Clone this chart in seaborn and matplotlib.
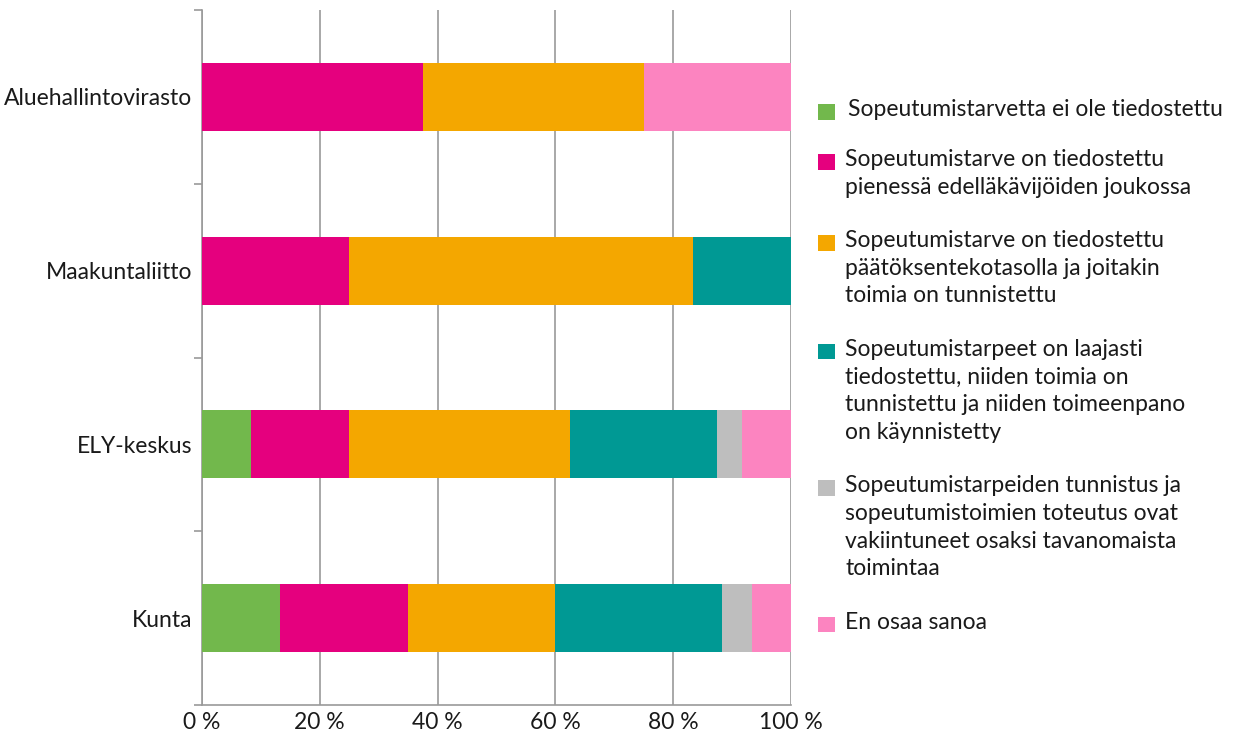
import matplotlib
matplotlib.use("Agg")
import matplotlib.pyplot as plt
import matplotlib.patches as mpatches
from matplotlib.legend_handler import HandlerPatch
from matplotlib.ticker import FixedLocator
import numpy as np
import pandas as pd
import seaborn as sns

categories = ["Aluehallintovirasto", "Maakuntaliitto", "ELY-keskus", "Kunta"]
series_names = [
    "Sopeutumistarvetta ei ole tiedostettu",
    "Sopeutumistarve on tiedostettu\npienessä edelläkävijöiden joukossa",
    "Sopeutumistarve on tiedostettu\npäätöksentekotasolla ja joitakin\ntoimia on tunnistettu",
    "Sopeutumistarpeet on laajasti\ntiedostettu, niiden toimia on\ntunnistettu ja niiden toimeenpano\non käynnistetty",
    "Sopeutumistarpeiden tunnistus ja\nsopeutumistoimien toteutus ovat\nvakiintuneet osaksi tavanomaista\ntoimintaa",
    "En osaa sanoa",
]
s_ei_tiedostettu = [0.0, 0.0, 8.3, 13.3]
s_edellakavijat = [37.5, 25.0, 16.7, 21.6]
s_paatoksenteko = [37.5, 58.3, 37.5, 25.0]
s_laajasti = [0.0, 16.7, 25.0, 28.4]
s_vakiintuneet = [0.0, 0.0, 4.2, 5.0]
s_en_osaa = [25.0, 0.0, 8.3, 6.7]
x_tick_values = [0, 20, 40, 60, 80, 100]
x_tick_labels = ["0\u00a0%", "20\u00a0%", "40\u00a0%", "60\u00a0%", "80\u00a0%", "100\u00a0%"]

colors = ["#72B84C", "#E5007E", "#F4A700", "#009994", "#BEBEBE", "#FC84C0"]

series = [s_ei_tiedostettu, s_edellakavijat, s_paatoksenteko, s_laajasti, s_vakiintuneet, s_en_osaa]
cum = np.cumsum(np.array(series), axis=0)

sns.set_theme(style="white")
plt.rcParams["font.family"] = ["Lato", "DejaVu Sans"]
text_color = "#1a1a1a"
grid_color = "#9a9a9a"
fs = 16.5

fig = plt.figure(figsize=(12.4, 7.32), dpi=100)
ax = fig.add_axes([202 / 1240, 1 - 705 / 732, (791 - 202) / 1240, (705 - 10) / 732])

# stacked bars: draw cumulative totals from largest down so each segment shows
for i in range(len(series) - 1, -1, -1):
    df = pd.DataFrame({"Kategoria": categories, "Arvo": cum[i]})
    sns.barplot(data=df, y="Kategoria", x="Arvo", order=categories, color=colors[i],
                orient="h", width=0.39, saturation=1, ax=ax, zorder=3,
                edgecolor="none", linewidth=0)

ax.set_xlim(0, 100)
ax.set_ylim(3.5, -0.5)
ax.set_xlabel("")
ax.set_ylabel("")
ax.set_xticks(x_tick_values)
ax.set_xticklabels(x_tick_labels, fontsize=fs, color=text_color)
ax.tick_params(axis="x", length=4, width=1.2, color=grid_color, pad=1)
ax.tick_params(axis="y", which="major", length=0, pad=7, labelsize=fs, labelcolor=text_color)
ax.yaxis.set_minor_locator(FixedLocator([-0.5, 0.5, 1.5, 2.5, 3.5]))
ax.tick_params(axis="y", which="minor", length=6, width=1.2, color=grid_color, left=True)
for lbl in ax.get_yticklabels():
    lbl.set_color(text_color)

ax.grid(axis="x", color=grid_color, linewidth=1.2, zorder=0)
ax.grid(axis="y", visible=False)
for side in ["top", "right"]:
    ax.spines[side].set_visible(False)
for side in ["left", "bottom"]:
    ax.spines[side].set_color(grid_color)
    ax.spines[side].set_linewidth(1.2)
ax.set_axisbelow(True)

shift_pt = 5 * 72 / 100  # move squares down to sit on the first text line


def square(legend, orig_handle, xdescent, ydescent, width, height, fontsize):
    return mpatches.Rectangle((-xdescent, -ydescent - shift_pt), width, height)


handler = {mpatches.Patch: HandlerPatch(patch_func=square)}
handles = [mpatches.Patch(facecolor=c, edgecolor="none") for c in colors]

common = dict(loc="upper left", frameon=False, fontsize=fs, handlelength=0.74,
              handleheight=0.68, labelspacing=1.4, borderaxespad=0, borderpad=0,
              handler_map=handler)
leg1 = fig.legend(handles[:1], series_names[:1], bbox_to_anchor=(818 / 1240, 1 - 99 / 732),
                  handletextpad=0.58, **common)
leg2 = fig.legend(handles[1:], series_names[1:], bbox_to_anchor=(818 / 1240, 1 - 149 / 732),
                  handletextpad=0.45, **common)
for leg in (leg1, leg2):
    for t in leg.get_texts():
        t.set_color(text_color)
        t.set_linespacing(1.4)
    try:
        for col in leg._legend_handle_box.get_children():
            for hp in col.get_children():
                hp.align = "top"
    except Exception:
        pass

fig.savefig("out.png", dpi=100)
